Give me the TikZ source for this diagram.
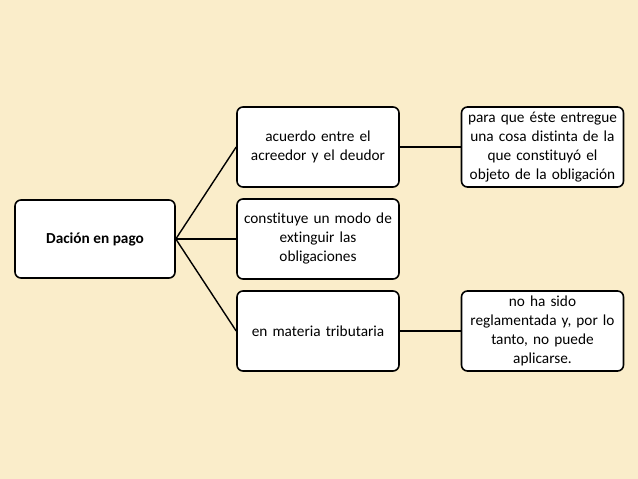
\documentclass[tikz,border=0pt]{standalone}
\usepackage{fontspec}
\setmainfont[Ligatures=NoCommon]{Carlito}
\definecolor{parchment}{RGB}{250,237,202}
\newcommand{\widthbox}{162pt}
\newcommand{\heightbox}{80pt}
\newcommand{\widthtext}{158pt}
\tikzset{
    common/.style={draw, rectangle, rounded corners=6pt, line width=1.6pt, fill=white, align=center, font=\fontsize{15.3}{19}\selectfont, inner sep=2pt},
    rootbox/.style={common, minimum width=160pt, minimum height=78pt, font=\bfseries\fontsize{15.3}{19}\selectfont},
    leaf/.style={common, minimum width=\widthbox, minimum height=\heightbox, text width=\widthtext},
    link/.style={line width=1.4pt}
}
\begin{document}
\begin{tikzpicture}
        \fill[parchment] (0,0) rectangle (638pt,479pt);
        \useasboundingbox (0,0) rectangle (638pt,479pt);

        \node[rootbox] (pago) at (95pt,240pt) {Dación en pago};

        \node[leaf] (acuerdo) at (318pt,332pt) {acuerdo entre el\\acreedor y el deudor};
        \node[leaf] (modo) at (318pt,240pt) {constituye un modo de\\extinguir las\\obligaciones};
        \node[leaf] (materia) at (318pt,148pt) {en materia tributaria};

        \node[leaf] (entregue) at (542.5pt,332pt) {para que éste entregue\\una cosa distinta de la\\que constituyó el\\objeto de la obligación};
        \node[leaf] (reglamentada) at (542.5pt,148pt) {no ha sido\\reglamentada y, por lo\\tanto, no puede\\aplicarse.};

        \draw[link] (pago.east) -- (acuerdo.west);
        \draw[link] (pago.east) -- (modo.west);
        \draw[link] (pago.east) -- (materia.west);
        \draw[link] (acuerdo.east) -- (entregue.west);
        \draw[link] (materia.east) -- (reglamentada.west);
    \end{tikzpicture}
\end{document}
